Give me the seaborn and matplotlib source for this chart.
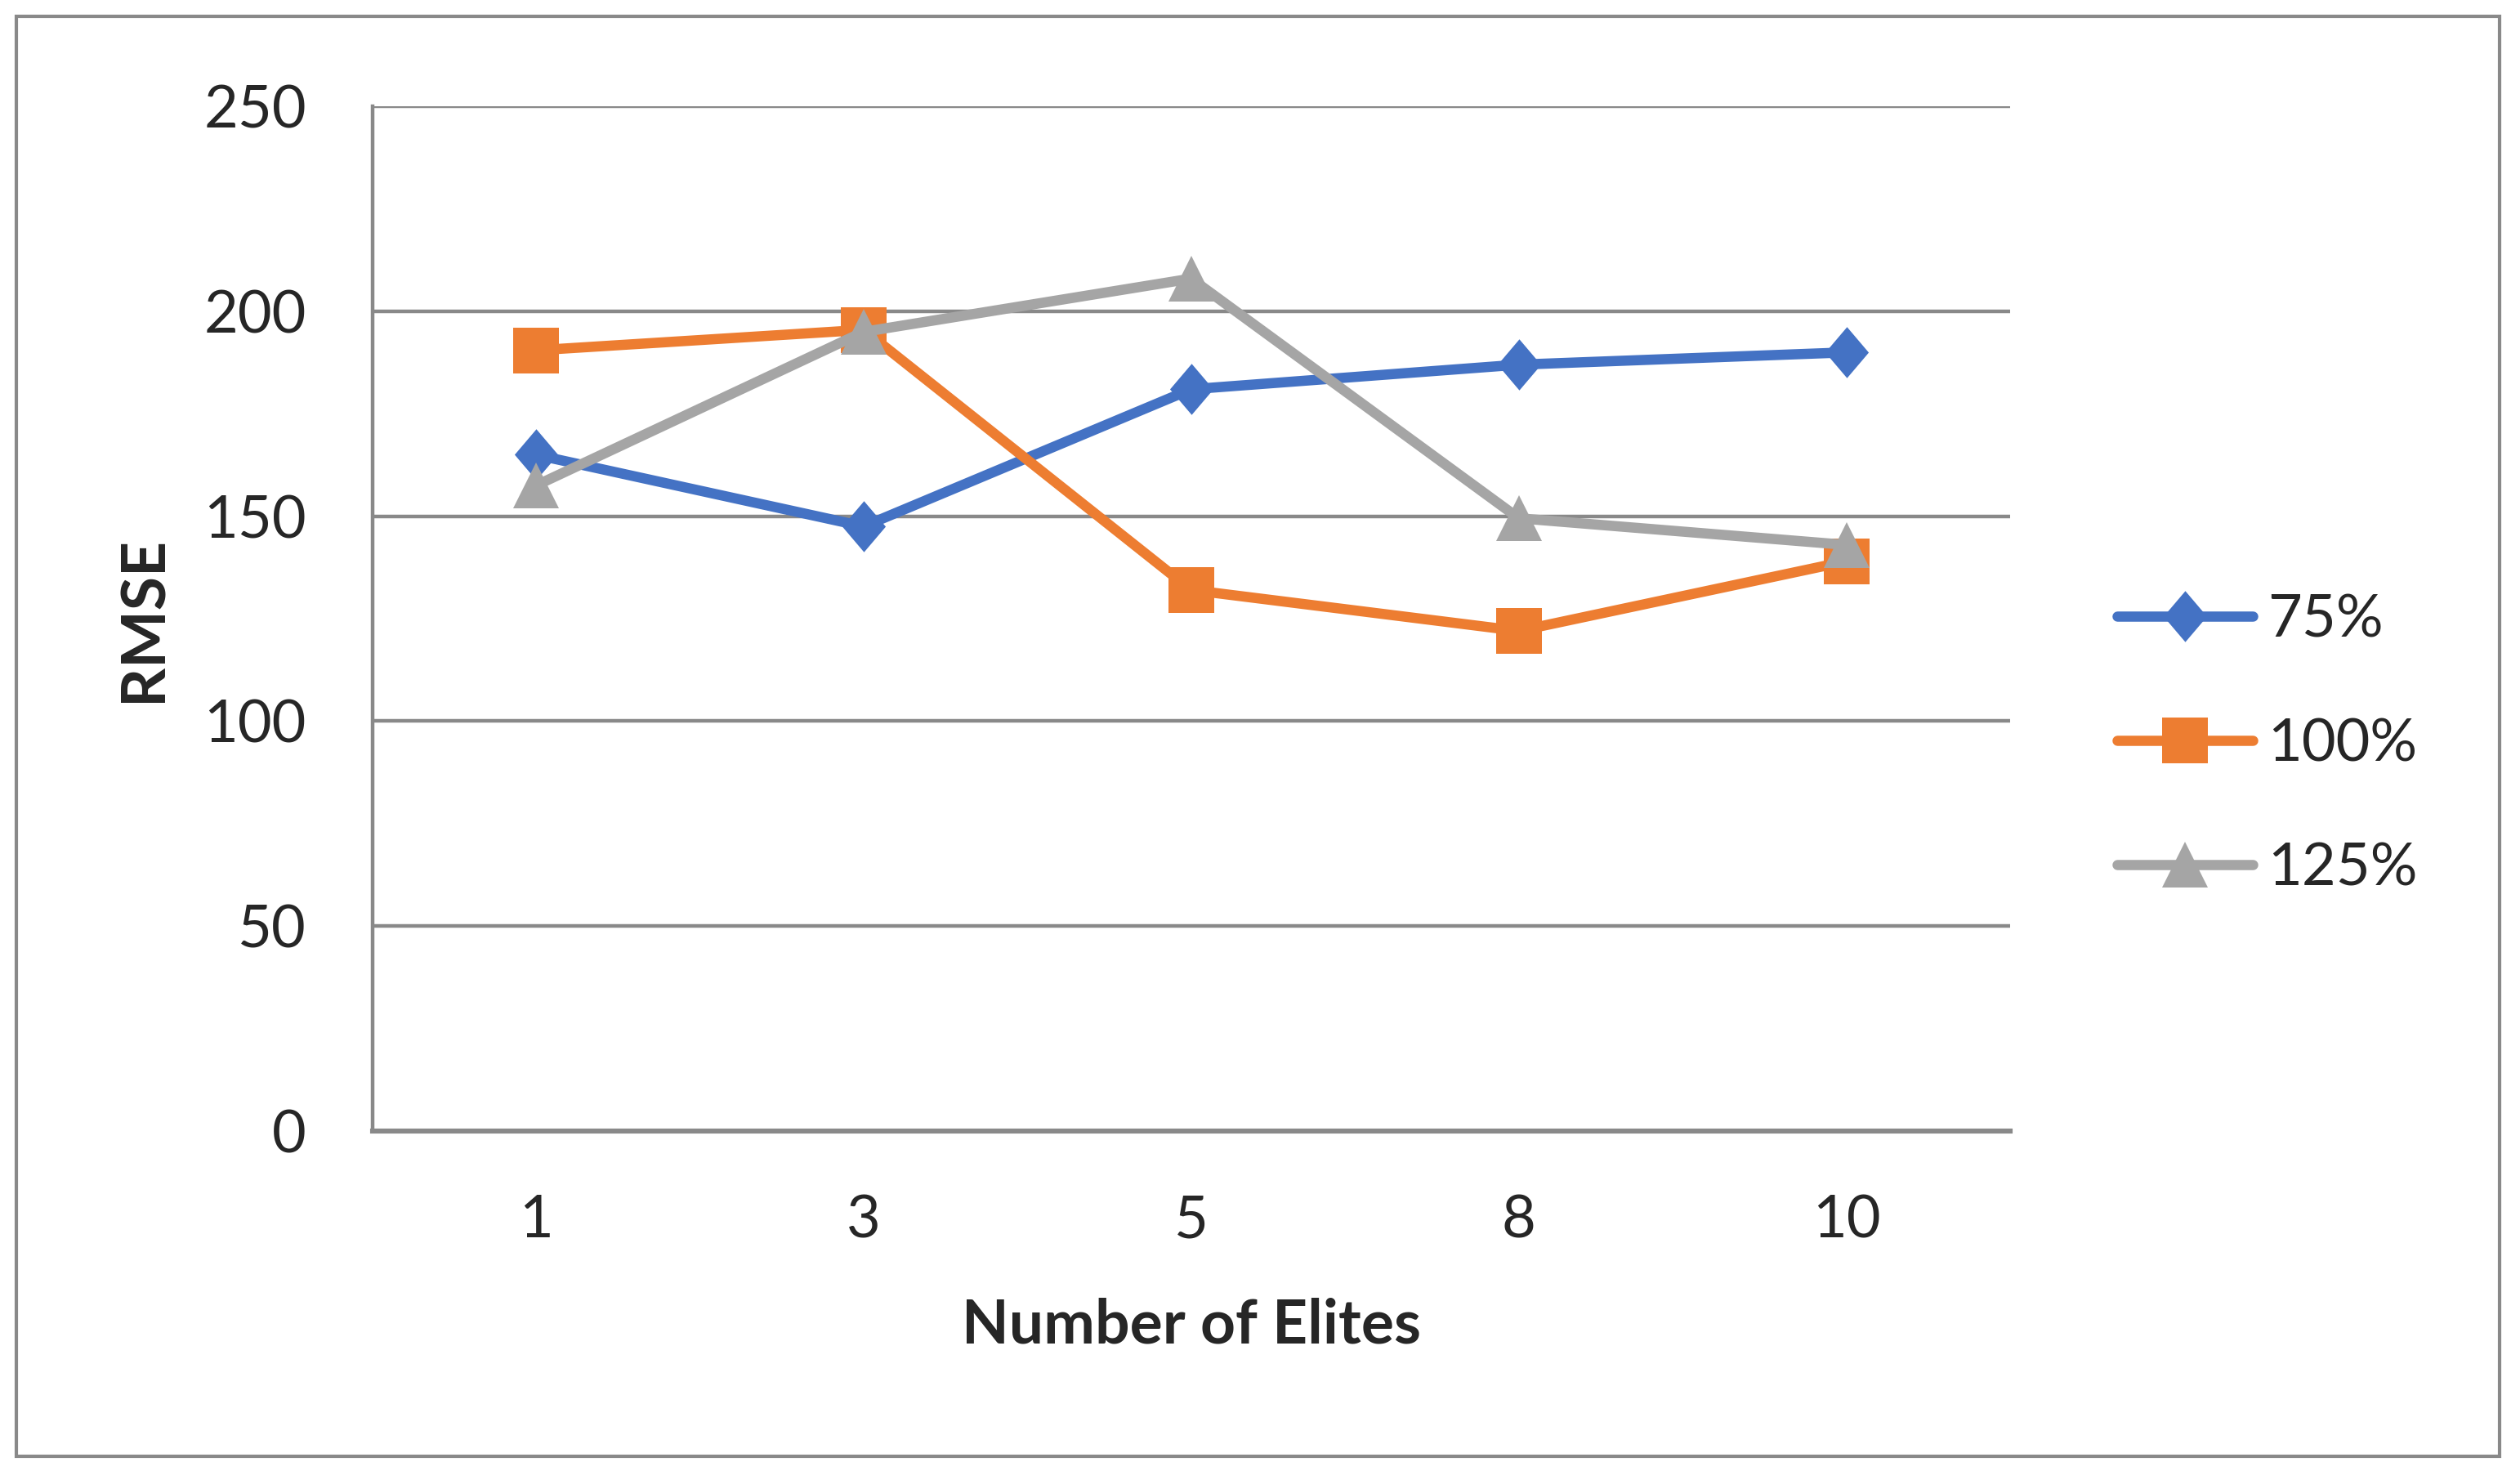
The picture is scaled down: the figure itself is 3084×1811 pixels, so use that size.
import matplotlib.pyplot as plt
import matplotlib.patches as mpatches
import numpy as np
import pandas as pd
import seaborn as sns

# values
elites = ["1", "3", "5", "8", "10"]
series = ["75%", "100%", "125%"]
rmse_75 = [165, 147.5, 181, 187, 190]
rmse_100 = [190.5, 195.5, 132, 122, 139]
rmse_125 = [157.5, 195, 208, 149.5, 143]
y_ticks = [0, 50, 100, 150, 200, 250]

colors = ["#4472C4", "#ED7D31", "#A5A5A5"]
# Excel's diamond is a bit taller than wide
diamond = [(0, 1), (0.85, 0), (0, -1), (-0.85, 0), (0, 1)]
markers = [diamond, "s", "^"]
grey = "#898989"

df = pd.DataFrame({
    "pos": list(range(len(elites))) * len(series),
    "RMSE": rmse_75 + rmse_100 + rmse_125,
    "series": np.repeat(series, len(elites)),
})

sns.set_style("white")
plt.rcParams["font.family"] = ["Lato", "DejaVu Sans"]

fig = plt.figure(figsize=(15.42, 9.055), dpi=200)
ax = fig.add_axes([0.1477, 0.236, 0.650, 0.692])

sns.lineplot(
    data=df, x="pos", y="RMSE", hue="series", style="series",
    hue_order=series, style_order=series,
    palette=colors, markers=dict(zip(series, markers)), dashes=False,
    lw=4.5, markersize=20.5, markeredgewidth=0, solid_capstyle="round",
    ax=ax, zorder=3,
)
# diamond reads smaller than the square at the same size
ax.lines[0].set_markersize(22.5)

# Excel-like category axis: ticks between categories, labels centred
ax.set_xlim(-0.5, len(elites) - 0.5)
ax.set_xticks(np.arange(-0.5, len(elites), 1.0))
ax.set_xticklabels([])
ax.set_xticks(range(len(elites)), minor=True)
ax.set_xticklabels(elites, minor=True, fontsize=26)
ax.tick_params(axis="x", which="major", length=9, width=1.3, color=grey, direction="out")
ax.tick_params(axis="x", which="minor", length=0, pad=28)

ax.set_ylim(0, 250)
ax.set_yticks(y_ticks)
ax.tick_params(axis="y", length=9, width=1.6, color=grey, labelsize=26, pad=20)
ax.grid(axis="y", color=grey, lw=1.6, zorder=0)
ax.set_axisbelow(True)

for side in ["top", "right"]:
    ax.spines[side].set_visible(False)
ax.spines["left"].set_color(grey)
ax.spines["left"].set_linewidth(1.6)
ax.spines["bottom"].set_color(grey)
ax.spines["bottom"].set_linewidth(2.2)

ax.set_xlabel("Number of Elites", fontsize=27, fontweight="bold")
ax.set_ylabel("RMSE", fontsize=27, fontweight="bold")
ax.xaxis.set_label_coords(0.5, -0.163)
ax.yaxis.set_label_coords(-0.122, 0.5)

handles, labels = ax.get_legend_handles_labels()
handles[0].set_markersize(22.5)
ax.legend(
    handles, labels, loc="center left", bbox_to_anchor=(0.840, 0.497),
    bbox_transform=fig.transFigure, frameon=False, fontsize=26,
    borderpad=0, borderaxespad=0, handlelength=2.3, handletextpad=0.25,
    labelspacing=1.2,
)

fig.patches.append(mpatches.Rectangle(
    (0.0064, 0.016), 0.9856, 0.973, transform=fig.transFigure,
    fill=False, edgecolor=grey, lw=1.5,
))

fig.savefig("out.png", dpi=200)
